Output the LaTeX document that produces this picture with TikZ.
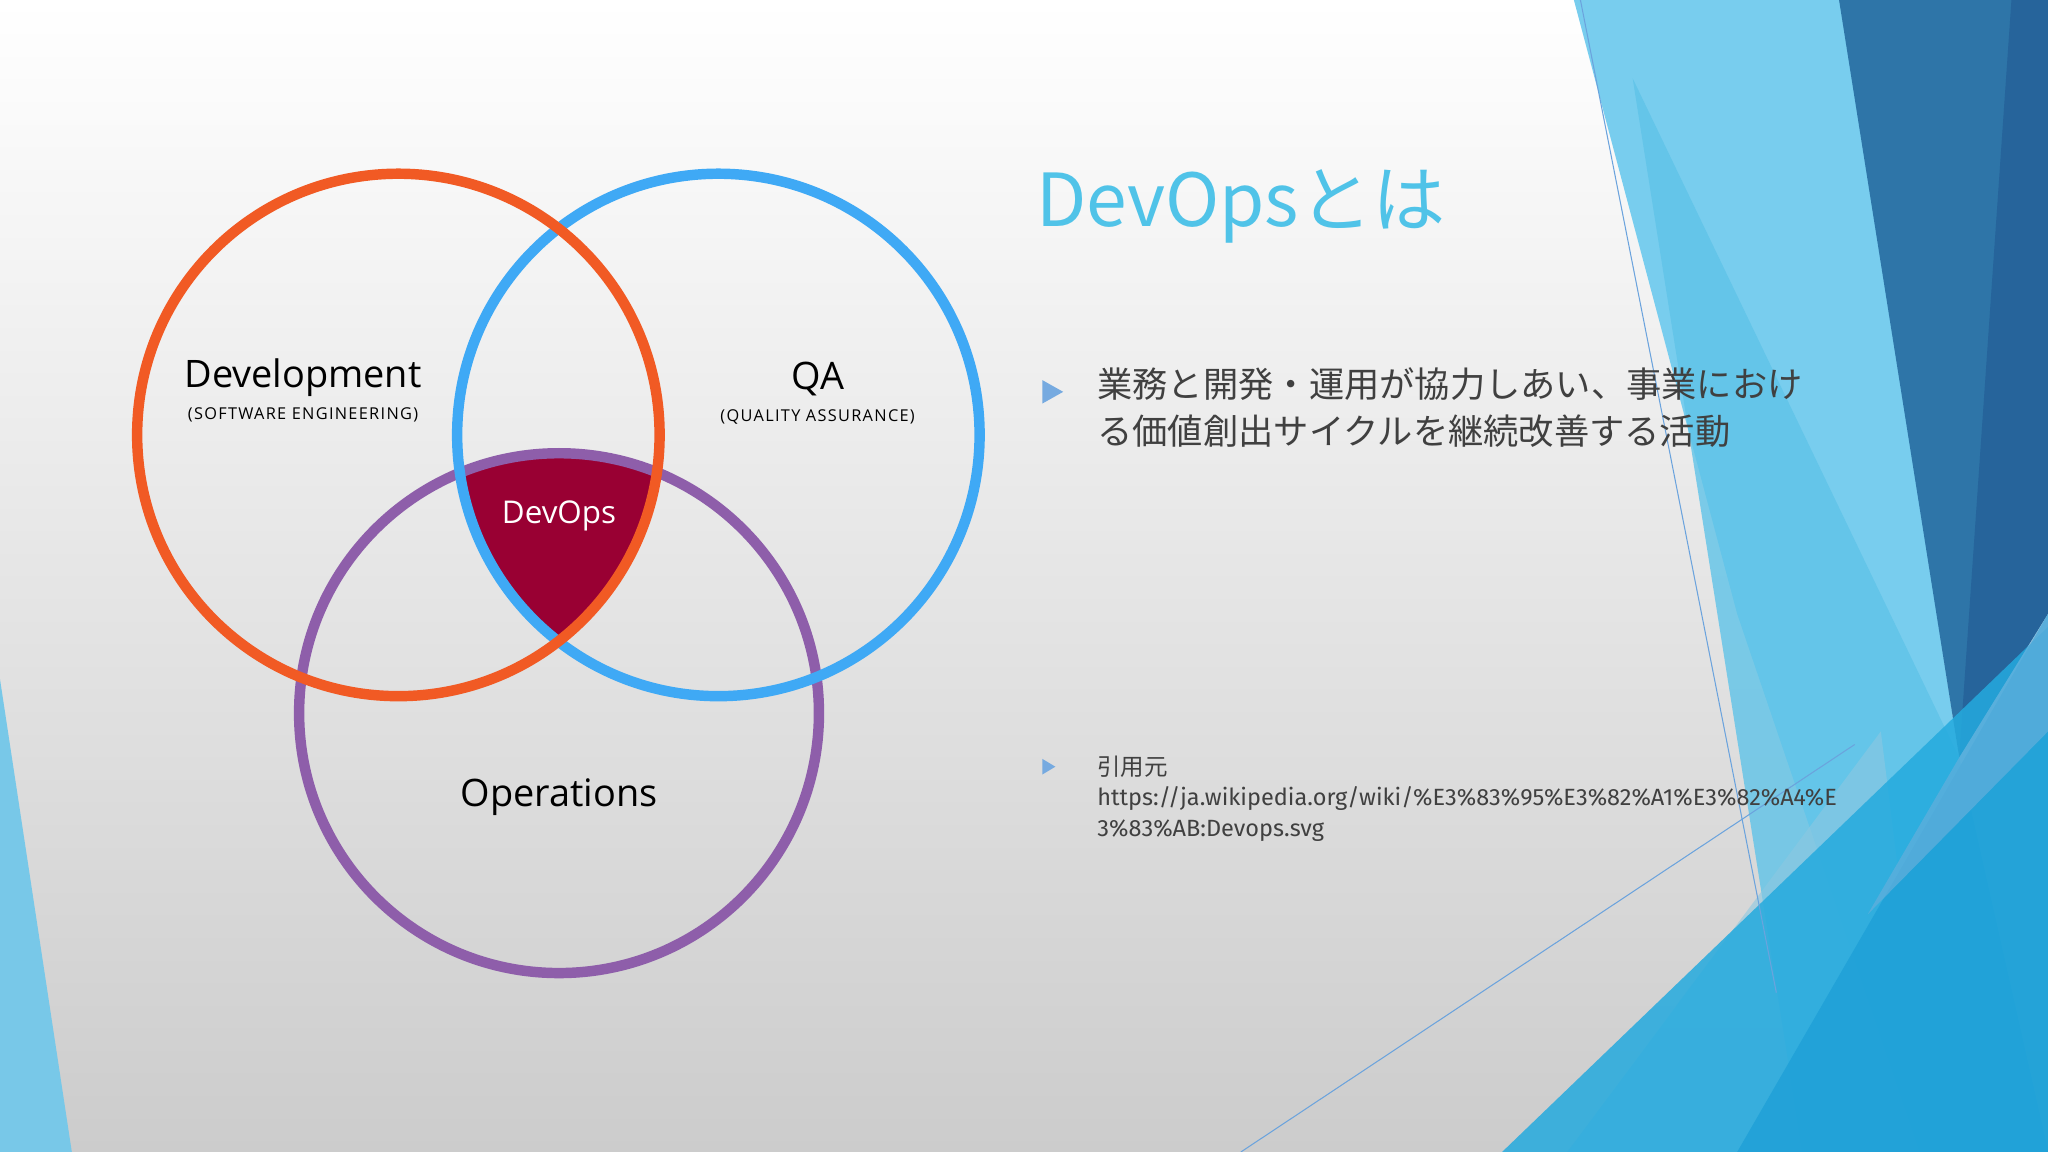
\documentclass[tikz,border=0pt]{standalone}
\usepackage{fontspec}
\setmainfont{Open Sans}
\newfontfamily\jp{Noto Sans CJK JP}
\newfontfamily\sanslat{Fira Sans}
\newfontfamily\spaced[LetterSpace=8]{Open Sans}
\begin{document}
\begin{tikzpicture}[x=1pt,y=-1pt,
  ring/.style={line width=8pt},
  bul/.style={fill=cyan!60!blue!55}]
\useasboundingbox (0,0) rectangle (1568,882);
\shade[top color=white,bottom color=black!20] (0,0) rectangle (1568,882);
% decorations
\fill[color={rgb,255:red,120;green,205;blue,238}] (1205,0) -- (1410,0) -- (1500,580) -- (1568,882) -- (1470,882) -- (1330,470) -- cycle;
\fill[color={rgb,255:red,95;green,195;blue,232},opacity=0.8] (1250,60) -- (1500,580) -- (1568,882) -- (1380,882) -- cycle;
\fill[color={rgb,255:red,46;green,117;blue,168}] (1408,0) -- (1568,0) -- (1568,270) -- (1500,580) -- cycle;
\fill[color={rgb,255:red,38;green,100;blue,155}] (1540,0) -- (1568,0) -- (1568,470) -- (1500,580) -- cycle;
\fill[color={rgb,255:red,140;green,200;blue,225},opacity=0.6] (1200,882) -- (1440,560) -- (1480,882) -- cycle;
\fill[color={rgb,255:red,36;green,170;blue,222},opacity=0.85] (1150,882) -- (1568,480) -- (1568,882) -- cycle;
\fill[color={rgb,255:red,30;green,160;blue,215},opacity=0.8] (1330,882) -- (1568,470) -- (1568,882) -- cycle;
\fill[color={rgb,255:red,100;green,175;blue,220},opacity=0.7] (1430,700) -- (1500,580) -- (1568,470) -- (1568,560) -- cycle;
\draw[cyan!60!blue!60,line width=0.8pt] (1210,0) -- (1360,760);
\draw[cyan!60!blue!60,line width=0.8pt] (950,882) -- (1420,570);
\fill[color={rgb,255:red,120;green,200;blue,232}] (0,520) -- (55,882) -- (0,882) -- cycle;
% venn
\coordinate (cd) at (305,333); \coordinate (cq) at (550,333); \coordinate (co) at (428,546);
\begin{scope}
\clip (cd) circle (200); \clip (cq) circle (200);
\fill[color={rgb,255:red,153;green,0;blue,51}] (co) circle (199);
\end{scope}
\draw[ring,color={rgb,255:red,142;green,94;blue,170}] (co) circle (199);
\draw[ring,color={rgb,255:red,63;green,169;blue,245}] (cq) circle (200);
\draw[ring,color={rgb,255:red,241;green,90;blue,36}] (cd) circle (200);
\node (dev) at (232,289) {\fontsize{29}{30}\selectfont Development};
\node (devs) at (232,318) {\spaced\fontsize{12.5}{14}\selectfont (SOFTWARE ENGINEERING)};
\node (qa) at (626,290) {\fontsize{29}{30}\selectfont QA};
\node (qas) at (626,319) {\spaced\fontsize{12.5}{14}\selectfont (QUALITY ASSURANCE)};
\node[white] (dvo) at (428,395) {\fontsize{24}{26}\selectfont DevOps};
\node (ops) at (428,610) {\fontsize{29}{30}\selectfont Operations};
% text
\node[anchor=west,inner sep=0,color={rgb,255:red,80;green,195;blue,232}] (title) at (793,158) {\jp\fontsize{56}{60}\selectfont DevOpsとは};
\fill[bul] (798,291) -- (814,300) -- (798,309) -- cycle;
\node[anchor=north west,inner sep=0,color=black!75,align=left,font=\jp\fontsize{27}{36}\selectfont] (body) at (840,281) {業務と開発・運用が協力しあい、事業におけ\\る価値創出サイクルを継続改善する活動};
\fill[bul] (798,581) -- (808,587) -- (798,593) -- cycle;
\node[anchor=west,inner sep=0,color=black!75,font=\jp\fontsize{18}{22}\selectfont] (ref) at (840,587) {引用元};
\node[anchor=north west,inner sep=0,color=black!75,align=left,font=\sanslat\fontsize{18}{24}\selectfont] (url) at (840,602) {https://ja.wikipedia.org/wiki/\%E3\%83\%95\%E3\%82\%A1\%E3\%82\%A4\%E\\3\%83\%AB:Devops.svg};
\end{tikzpicture}
\end{document}
